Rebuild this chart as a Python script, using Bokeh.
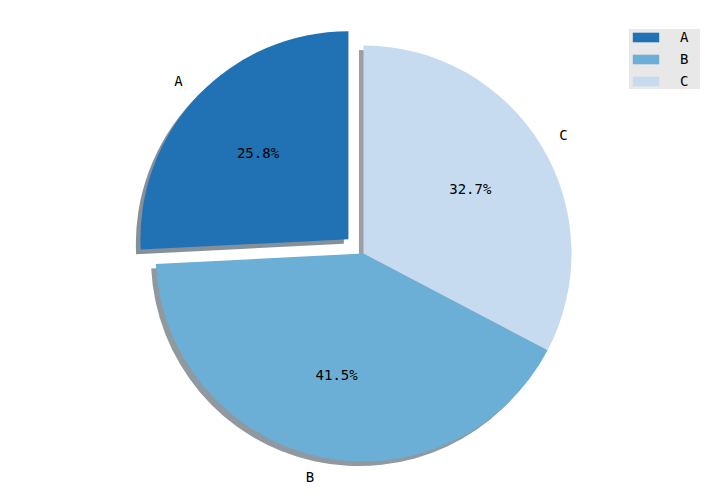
import math
from bokeh.plotting import figure
from bokeh.models import Range1d, Legend, LegendItem
from bokeh.core.properties import value
from bokeh.embed import file_html
from bokeh.resources import INLINE

labels = ["A", "B", "C"]
values = [25.8, 41.5, 32.7]
explode = [0.1, 0.0, 0.0]
colors = ["#2171b5", "#6baed6", "#c6dbef"]

W, H = 712, 496
scale = 208.0  # px per unit radius
cx_px, cy_px = 363.0, 253.0  # pie centre in figure px (from top-left)

p = figure(width=W, height=H, output_backend="svg", toolbar_location=None,
           x_range=Range1d(-cx_px / scale, (W - cx_px) / scale),
           y_range=Range1d(-(H - cy_px) / scale, cy_px / scale),
           min_border=0)
p.axis.visible = False
p.grid.visible = False
p.outline_line_color = None

total = sum(values)
fracs = [v / total for v in values]
starts, ends, mids, cxs, cys = [], [], [], [], []
theta = math.pi / 2
for f, e in zip(fracs, explode):
    s = theta
    t = theta + f * 2 * math.pi
    m = (s + t) / 2
    starts.append(s)
    ends.append(t)
    mids.append(m)
    cxs.append(e * math.cos(m))
    cys.append(e * math.sin(m))
    theta = t

def darken(h):
    r, g, b = int(h[1:3], 16), int(h[3:5], 16), int(h[5:7], 16)
    return "#%02x%02x%02x" % (int(r * 0.3), int(g * 0.3), int(b * 0.3))

off = 0.022
for i in range(len(values)):
    p.wedge(x=cxs[i] - off, y=cys[i] - off, radius=1.0, start_angle=starts[i], end_angle=ends[i],
            fill_color=darken(colors[i]), fill_alpha=0.5, line_color=None)

renderers = []
for i in range(len(values)):
    r = p.wedge(x=cxs[i], y=cys[i], radius=1.0, start_angle=starts[i], end_angle=ends[i],
                fill_color=colors[i], line_color=None)
    renderers.append(r)

FONT = "DejaVu Sans Mono"
font = value(FONT)
for i in range(len(values)):
    lx = cxs[i] + 1.1 * math.cos(mids[i])
    ly = cys[i] + 1.1 * math.sin(mids[i])
    p.text(x=[lx], y=[ly], text=[labels[i]], text_font=font, text_font_size="14px",
           text_align="right" if lx < 0 else "left", text_baseline="middle", text_color="black")
    px = cxs[i] + 0.6 * math.cos(mids[i])
    py = cys[i] + 0.6 * math.sin(mids[i])
    p.text(x=[px], y=[py], text=["%.1f%%" % (fracs[i] * 100)], text_font=font, text_font_size="14px",
           text_align="center", text_baseline="middle", text_color="black")

legend = Legend(items=[LegendItem(label=labels[i], renderers=[renderers[i]]) for i in range(len(values))],
                location=(629, H - 17 - 72), margin=0, padding=7, spacing=6,
                glyph_width=33, glyph_height=12, label_height=16, label_standoff=18,
                label_text_font=FONT, label_text_font_size="14px", label_text_color="black",
                background_fill_color="#e8e8e8", background_fill_alpha=1.0,
                border_line_color=None)
p.add_layout(legend, "center")

open("out.html", "w").write(file_html(p, INLINE))
